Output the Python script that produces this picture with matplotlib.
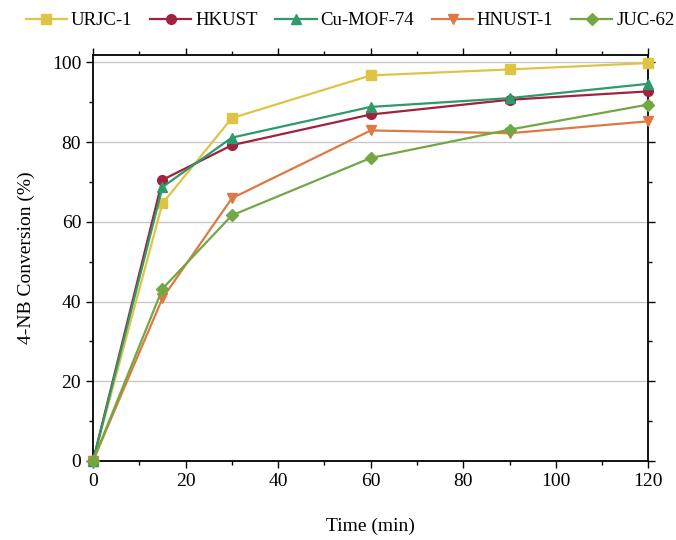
import matplotlib
matplotlib.use('Agg')
from matplotlib import pyplot as plt
from matplotlib.ticker import MultipleLocator

plt.rcParams['font.family'] = ['Liberation Serif', 'DejaVu Serif']

time = [0, 15, 30, 60, 90, 120]
urjc1 = [0, 64.6, 86.0, 96.7, 98.2, 99.8]
hkust = [0, 70.5, 79.2, 86.9, 90.6, 92.7]
cumof74 = [0, 68.7, 81.1, 88.8, 91.0, 94.6]
hnust1 = [0, 40.8, 65.9, 82.9, 82.2, 85.2]
juc62 = [0, 43.2, 61.6, 76.0, 83.1, 89.4]

series = [
    ('URJC-1', urjc1, '#DEC445', 's'),
    ('HKUST', hkust, '#A1213F', 'o'),
    ('Cu-MOF-74', cumof74, '#2E9A6A', '^'),
    ('HNUST-1', hnust1, '#DF7943', 'v'),
    ('JUC-62', juc62, '#72A843', 'D'),
]

fig = plt.figure(figsize=(6.76, 5.4), dpi=100)
ax = fig.add_axes([0.1376, 0.1463, 0.8216, 0.7517])

for name, vals, color, mk in series:
    ms = 6 if mk == 'D' else 7
    ax.plot(time, vals, color=color, marker=mk, markersize=ms, linewidth=1.6,
            label=name, clip_on=False, zorder=3)

ax.set_xlim(0, 120)
ax.set_ylim(0, 101.8)
ax.xaxis.set_major_locator(MultipleLocator(20))
ax.xaxis.set_minor_locator(MultipleLocator(10))
ax.yaxis.set_major_locator(MultipleLocator(20))
ax.yaxis.set_minor_locator(MultipleLocator(10))
ax.grid(axis='y', which='major', color='#C8C8C8', linewidth=1.0, zorder=0)
ax.tick_params(which='both', direction='out', top=True, right=True,
               labelsize=14, width=1.0)
ax.tick_params(which='major', length=5)
ax.tick_params(which='minor', length=3)
for sp in ax.spines.values():
    sp.set_linewidth(1.3)

ax.set_xlabel('Time (min)', fontsize=14, labelpad=20)
ax.set_ylabel('4-NB Conversion (%)', fontsize=14, labelpad=12)

fig.legend(loc='center', bbox_to_anchor=(0.518, 0.962), ncol=5, frameon=False,
           fontsize=13.5, handlelength=2.2, handletextpad=0.2, columnspacing=0.95,
           borderaxespad=0.0, borderpad=0.0)

fig.savefig('out.png', dpi=100)
